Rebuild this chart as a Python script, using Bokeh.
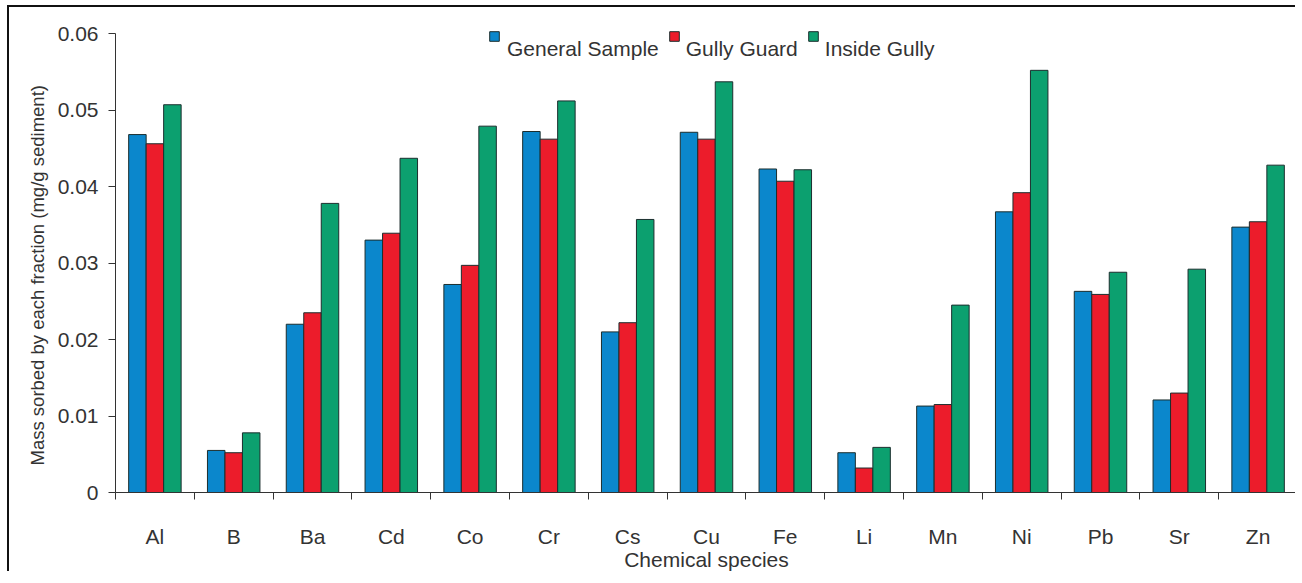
import numpy as np
from bokeh.plotting import figure
from bokeh.models import (Range1d, FixedTicker, CustomJSTickFormatter, NumeralTickFormatter,
                          Legend, LegendItem, Title)
from bokeh.embed import file_html
from bokeh.resources import INLINE

categories = ["Al", "B", "Ba", "Cd", "Co", "Cr", "Cs", "Cu", "Fe", "Li", "Mn", "Ni", "Pb", "Sr", "Zn"]
series_names = ["General Sample", "Gully Guard", "Inside Gully"]
general_sample = [0.0468, 0.0055, 0.0220, 0.0330, 0.0272, 0.0472, 0.0210, 0.0471, 0.0423,
                  0.0052, 0.0113, 0.0367, 0.0263, 0.0121, 0.0347]
gully_guard = [0.0456, 0.0052, 0.0235, 0.0339, 0.0297, 0.0462, 0.0222, 0.0462, 0.0407,
               0.0032, 0.0115, 0.0392, 0.0259, 0.0130, 0.0354]
inside_gully = [0.0507, 0.0078, 0.0378, 0.0437, 0.0479, 0.0512, 0.0357, 0.0537, 0.0422,
                0.0059, 0.0245, 0.0552, 0.0288, 0.0292, 0.0428]
y_ticks = [0, 0.01, 0.02, 0.03, 0.04, 0.05, 0.06]

colors = ["#0b87cc", "#ec1c2b", "#0ca06f"]
FONT = "Liberation Sans"
TXT = "#333333"
FS = "21px"

p = figure(width=1288, height=566, output_backend="svg", toolbar_location=None,
           x_range=Range1d(0, len(categories)), y_range=Range1d(0, 0.0625),
           min_border_left=106, min_border_right=0, min_border_top=7, min_border_bottom=81)
p.styles = {"border-top": "2px solid #111111", "border-left": "2px solid #111111",
            "margin-top": "5px", "margin-left": "7px"}
p.outline_line_color = None
p.xgrid.visible = False
p.ygrid.visible = False

centers = np.arange(len(categories)) + 0.5
bw = 0.222
renderers = []
ghosts = []
for k, (vals, col) in enumerate(zip([general_sample, gully_guard, inside_gully], colors)):
    r = p.vbar(x=centers + (k - 1) * bw, top=vals, bottom=0, width=bw,
               fill_color=col, line_color="#1c2e2e", line_width=1)
    renderers.append(r)
    g = p.vbar(x=[], top=[], bottom=0, width=bw, fill_alpha=0, line_alpha=0)
    ghosts.append(g)

# x axis
xa = p.xaxis[0]
xa.ticker = FixedTicker(ticks=list(centers), minor_ticks=list(range(len(categories) + 1)))
xa.formatter = CustomJSTickFormatter(args=dict(cats=categories),
                                     code="return cats[Math.floor(tick)];")
xa.major_tick_line_color = None
xa.major_tick_out = 8
xa.major_tick_in = 0
xa.minor_tick_out = 7
xa.minor_tick_in = 0
xa.minor_tick_line_color = TXT
xa.axis_line_color = TXT
xa.major_label_standoff = 24
xa.major_label_text_font = FONT
xa.major_label_text_font_size = FS
xa.major_label_text_color = TXT
xa.axis_label = "Chemical species"
xa.axis_label_standoff = -3
xa.axis_label_text_font = FONT
xa.axis_label_text_font_size = FS
xa.axis_label_text_font_style = "normal"
xa.axis_label_text_color = TXT

# y axis
ya = p.yaxis[0]
ya.bounds = (0, 0.06)
ya.ticker = FixedTicker(ticks=y_ticks, minor_ticks=[])
ya.formatter = NumeralTickFormatter(format="0.[00]")
ya.major_tick_out = 7
ya.major_tick_in = 0
ya.minor_tick_out = 0
ya.minor_tick_in = 0
ya.major_tick_line_color = TXT
ya.axis_line_color = TXT
ya.major_label_standoff = 10
ya.major_label_text_font = FONT
ya.major_label_text_font_size = FS
ya.major_label_text_color = TXT

# y axis title (starts a little above the x axis, as in the original)
ytitle = Title(text="Mass sorbed by each fraction (mg/g sediment)", align="left", offset=27,
               text_font=FONT, text_font_size="18.5px", text_font_style="normal",
               text_color=TXT, standoff=14)
p.add_layout(ytitle, "left")

# legend labels (glyph slots left empty)
legend_tx = Legend(items=[LegendItem(label=n, renderers=[g]) for n, g in zip(series_names, ghosts)],
                   location=(373, 431), orientation="horizontal", glyph_width=12, glyph_height=12,
                   label_standoff=7, spacing=8, padding=0, margin=0, border_line_color=None,
                   background_fill_alpha=0, label_text_font=FONT, label_text_font_size=FS,
                   label_text_color=TXT)
p.add_layout(legend_tx, "center")
# legend squares, raised a little above the labels
for r, xloc in zip(renderers, [373, 553, 692]):
    lg = Legend(items=[LegendItem(label=" ", renderers=[r])], location=(xloc, 450),
                glyph_width=12, glyph_height=12, label_standoff=0, padding=0, margin=0,
                border_line_color=None, background_fill_alpha=0, label_text_font_size="0px")
    p.add_layout(lg, "center")

open("out.html", "w").write(file_html(p, INLINE))
